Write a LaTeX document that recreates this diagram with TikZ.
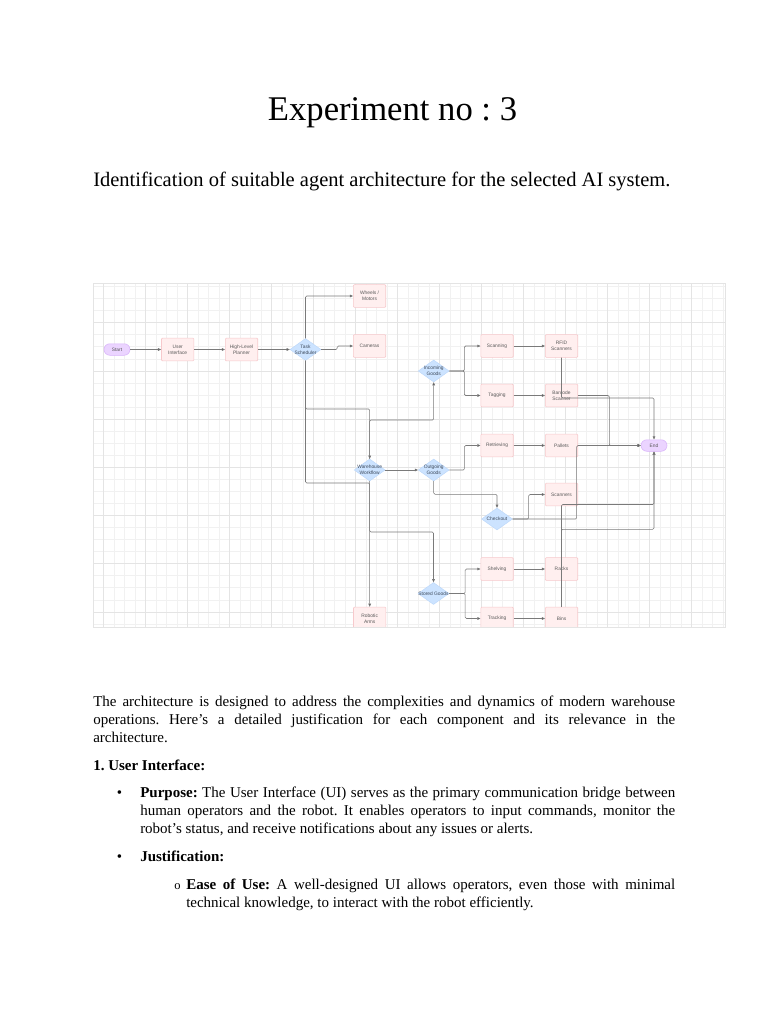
\documentclass[tikz,border=0pt]{standalone}
\usepackage{fontspec}
\setmainfont{Liberation Serif}
\newfontfamily\dsans{Liberation Sans}
\usetikzlibrary{arrows.meta,shapes.geometric,calc}
\frenchspacing
\definecolor{rectfill}{HTML}{FFEFEF}
\definecolor{rectdraw}{HTML}{F7C9CC}
\definecolor{diafill}{HTML}{CCE3FF}
\definecolor{diadraw}{HTML}{B9D6FA}
\definecolor{pillfill}{HTML}{EBD4FF}
\definecolor{pilldraw}{HTML}{D9B3FA}
\definecolor{edgecol}{HTML}{7A7A7A}
\definecolor{arrowcol}{HTML}{444444}
\definecolor{gridminor}{HTML}{F1F1F1}
\definecolor{gridmajor}{HTML}{E4E4E4}
\definecolor{lblcol}{HTML}{5A5A5A}
\definecolor{dlblcol}{HTML}{3E4A5C}
\begin{document}
\frenchspacing
\begin{tikzpicture}[x=0.8pt,y=-0.8pt,
  box/.style={rectangle, draw=rectdraw, fill=rectfill, line width=0.5pt,
    minimum width=25.9pt, minimum height=18.2pt, inner sep=0pt, rounded corners=0.8pt,
    font=\dsans\fontsize{3.9}{5}\selectfont, text=lblcol, align=center},
  dia/.style={diamond, draw=diadraw, fill=diafill, line width=0.3pt,
    minimum width=24.8pt, minimum height=17.6pt, inner sep=0pt},
  dlbl/.style={font=\dsans\fontsize{3.9}{5}\selectfont, text=dlblcol, align=center, inner sep=0pt},
  pill/.style={rectangle, rounded corners=4.6pt, draw=pilldraw, fill=pillfill, line width=0.4pt,
    minimum width=20.8pt, minimum height=9.2pt, inner sep=0pt,
    font=\dsans\fontsize{3.9}{5}\selectfont, text=lblcol},
  edge/.style={draw=edgecol, line width=0.45pt, rounded corners=1pt,
    -{Triangle[length=2.6pt,width=2.2pt,fill=arrowcol]}},
  body/.style={anchor=base west, inner sep=0pt, font=\fontsize{12}{14.4}\selectfont},
]
\useasboundingbox[fill=white] (0,0) rectangle (768,1024);

% ---------- heading ----------
\node[anchor=base, inner sep=0pt, font=\fontsize{27.7}{32}\selectfont] (title) at (392.5,121) {Experiment no : 3};
\node[anchor=base west, inner sep=0pt, font=\fontsize{16.4}{19}\selectfont] (subtitle) at (93,187)
  {Identification of suitable agent architecture for the selected AI system.};

% ---------- diagram ----------
\begin{scope}
\clip (93,283) rectangle (725,627);
\fill[white] (93,283) rectangle (725,627);
\foreach \k in {0,...,59} {
  \pgfmathsetmacro{\xx}{103.3+10.5*\k}
  \draw[gridminor, line width=0.4pt] (\xx,283) -- (\xx,627);
}
\foreach \j in {0,...,28} {
  \pgfmathsetmacro{\yy}{286.45+12.05*\j}
  \draw[gridminor, line width=0.4pt] (93,\yy) -- (725,\yy);
}
\foreach \k in {0,4,...,56} {
  \pgfmathsetmacro{\xx}{103.3+10.5*\k}
  \draw[gridmajor, line width=0.45pt] (\xx,283) -- (\xx,627);
}
\foreach \j in {3,7,...,27} {
  \pgfmathsetmacro{\yy}{286.45+12.05*\j}
  \draw[gridmajor, line width=0.45pt] (93,\yy) -- (725,\yy);
}

% nodes
\node[pill] (start) at (117,349.5) {Start};
\node[box] (ui) at (177.7,349.5) {User\\Interface};
\node[box] (hlp) at (241.5,349.5) {High-Level\\Planner};
\node[dia] (ts) at (305.5,349.5) {};
\node[dlbl] (ts-t) at (ts) {Task\\Scheduler};
\node[box] (wm) at (369.5,296) {Wheels /\\Motors};
\node[box] (cam) at (369.5,346) {Cameras};
\node[dia] (ig) at (433.7,371) {};
\node[dlbl] (ig-t) at (ig) {Incoming\\Goods};
\node[box] (scan) at (497,346) {Scanning};
\node[box] (rfid) at (561.5,346) {RFID\\Scanners};
\node[box] (tag) at (497,395.5) {Tagging};
\node[box] (bar) at (561.5,395.5) {Barcode\\Scanner};
\node[dia] (ww) at (369.7,470) {};
\node[dlbl] (ww-t) at (ww) {Warehouse\\Workflow};
\node[dia] (og) at (433.7,470) {};
\node[dlbl] (og-t) at (og) {Outgoing\\Goods};
\node[box] (ret) at (497,445.5) {Retrieving};
\node[box] (pal) at (561.5,445.5) {Pallets};
\node[pill] (endn) at (654,445.5) {End};
\node[box] (scn) at (561.5,494.5) {Scanners};
\node[dia] (chk) at (497,519) {};
\node[dlbl] (chk-t) at (chk) {Checkout};
\node[box] (shelf) at (497,569) {Shelving};
\node[box] (racks) at (561.5,569) {Racks};
\node[dia] (sg) at (433.5,593.5) {};
\node[dlbl] (sg-t) at (sg) {Stored Goods};
\node[box] (track) at (497,618.5) {Tracking};
\node[box] (bins) at (561.5,618.5) {Bins};
\node[box] (arms) at (369.7,618.5) {Robotic\\Arms};

% rails
\coordinate (r409) at (0,409);
\coordinate (r483) at (0,483);
\coordinate (r420) at (0,420);
\coordinate (r532) at (0,532);
\coordinate (r398) at (0,398);
\coordinate (r494) at (0,494.3);
\coordinate (r505) at (0,504.5);
\coordinate (r529) at (0,529.3);
\coordinate (c609) at (609.3,0);
\coordinate (c577) at (576.7,0);

% edges
\draw[edge] (start) -- (ui);
\draw[edge] (ui) -- (hlp);
\draw[edge] (hlp) -- (ts.west);
\draw[edge] (ts.north) |- (wm.west);
\draw[edge] (ts.east) -- ++(16,0) |- (cam.west);
\draw[edge] (ts.south) -- (ts.south |- r409) -| (ww.north);
\draw[edge] (ts.south) -- (ts.south |- r483) -| (arms.north);
\draw[edge] (ww.north) -- (ww.north |- r420) -| (ig.south);
\draw[edge] (ww.east) -- (og.west);
\draw[edge] (ww.south) -- (ww.south |- r532) -| (sg.north);
\draw[edge] (ig.east) -- ++(15,0) |- (scan.west);
\draw[edge] (ig.east) -- ++(15,0) |- (tag.west);
\draw[edge] (scan) -- (rfid);
\draw[edge] (tag) -- (bar);
\draw[edge] (rfid.south) -- (rfid.south |- r398) -| (endn.north);
\draw[edge] (bar.east) -- (bar.east -| c609) |- (endn.west);
\draw[edge] (og.east) -- ++(15,0) |- (ret.west);
\draw[edge] (og.south) -- (og.south |- r494) -| (chk.north);
\draw[edge] (ret) -- (pal);
\draw[edge] (pal) -- (endn);
\draw[edge] (chk.east) -- (chk.east -| c577) |- (endn.west);
\draw[edge] (chk.east) -- ++(16,0) |- (scn.west);
\draw[edge] (racks.north) -- (racks.north |- r529) -| (endn.south);
\draw[edge] (bins.north) -- (bins.north |- r505) -| (endn.south);
\draw[edge] (sg.east) -- ++(16,0) |- (shelf.west);
\draw[edge] (sg.east) -- ++(16,0) |- (track.west);
\draw[edge] (shelf) -- (racks);
\draw[edge] (track) -- (bins);
\end{scope}
\draw[gridmajor, line width=0.4pt] (93,283) rectangle (725,627);

% ---------- body text ----------
\node[body] (p1) at (93,706) {\makebox[465.6pt][s]{The architecture is designed to address the complexities and dynamics of modern warehouse}};
\node[body] (p2) at (93,724) {\makebox[465.6pt][s]{operations. Here’s a detailed justification for each component and its relevance in the}};
\node[body] (p3) at (93,742) {architecture.};
\node[body] (h1) at (93,770) {\textbf{1. User Interface:}};
\node[body] (b1) at (116.5,797) {•};
\node[body] (q1) at (140,797) {\makebox[428pt][s]{\textbf{Purpose:} The User Interface (UI) serves as the primary communication bridge between}};
\node[body] (q2) at (140,815) {\makebox[428pt][s]{human operators and the robot. It enables operators to input commands, monitor the}};
\node[body] (q3) at (140,833) {robot’s status, and receive notifications about any issues or alerts.};
\node[body] (b2) at (116.5,861) {•};
\node[body] (j1) at (140,861) {\textbf{Justification:}};
\node[body, font=\fontsize{10}{12}\selectfont] (b3) at (174,889) {o};
\node[body] (e1) at (186,889) {\makebox[391.2pt][s]{\textbf{Ease of Use:} A well-designed UI allows operators, even those with minimal}};
\node[body] (e2) at (186,907) {technical knowledge, to interact with the robot efficiently.};
\end{tikzpicture}
\end{document}
